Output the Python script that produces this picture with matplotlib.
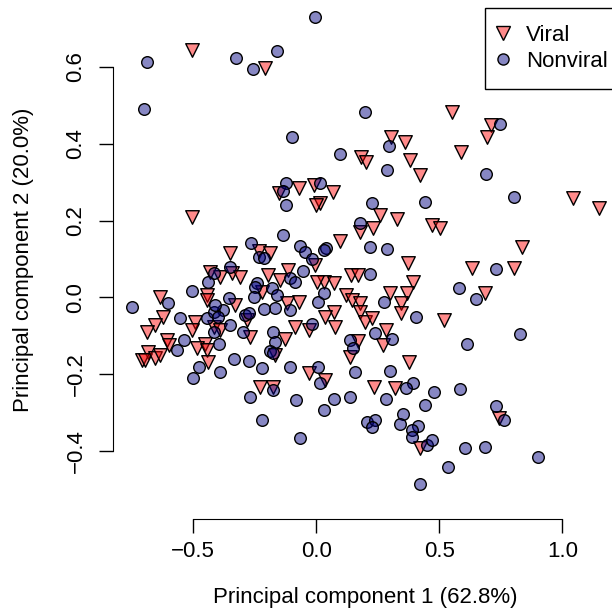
import matplotlib
matplotlib.use("Agg")
import matplotlib.pyplot as plt
from matplotlib.lines import Line2D

# PCA scores
viral_x = [-0.505, -0.207, 0.551, 0.710, 0.694, 0.304, 0.362, 0.589, 0.182, 0.202, 0.382, 0.420,
           0.068, 0.016, 0.260, 0.328, 0.176, 0.229, 0.095, 0.371, 0.141, 0.168, 0.393, 0.030, 0.070,
           -0.153, -0.069, -0.008, 0.000, -0.350, -0.234, -0.187, -0.004, -0.343, -0.390, -0.309,
           -0.198, -0.113, -0.146, 0.003,
           -0.503, -0.431,
           -0.634, -0.445, -0.445, -0.621, -0.654, -0.688, -0.492, -0.505, -0.607, -0.600, -0.451,
           -0.485, -0.445, -0.682, -0.709, -0.695, -0.654, -0.634, -0.438,
           -0.221, -0.329, -0.119, -0.072, -0.282, -0.085, -0.031, -0.268, -0.126, -0.167, -0.031,
           -0.228, -0.174, -0.417, -0.390,
           0.122, 0.145, 0.179, 0.301, 0.369, 0.346, 0.346, 0.070, 0.037, 0.077, 0.176, 0.199, 0.226,
           0.285, 0.271, 0.168, 0.138, 0.375, 0.233, 0.321, 0.037,
           0.420,
           1.042, 1.149, 0.470, 0.504, 0.836, 0.633, 0.802, 0.684, 0.518, 0.741]
viral_y = [0.644, 0.597, 0.482, 0.449, 0.418, 0.418, 0.406, 0.379, 0.366, 0.353, 0.358, 0.319,
           0.275, 0.246, 0.215, 0.203, 0.171, 0.180, 0.148, 0.089, 0.058, 0.058, 0.041, 0.040, 0.037,
           0.271, 0.284, 0.293, 0.241, 0.115, 0.122, 0.115, 0.084, 0.063, 0.054, 0.052,
           0.058, 0.071, 0.045, 0.041,
           0.209, 0.067,
           0.002, 0.006, -0.007, -0.050, -0.072, -0.089, -0.063, -0.085, -0.111, -0.124, -0.120,
           -0.133, -0.137, -0.141, -0.163, -0.163, -0.159, -0.150, -0.167,
           0.015, -0.020, -0.015, -0.011, -0.059, -0.076, -0.085, -0.102, -0.107, -0.150, -0.196,
           -0.233, -0.233, -0.076, -0.085,
           0.006, -0.007, -0.015, 0.011, 0.012, -0.014, -0.041, -0.037, -0.050, -0.076, -0.037, -0.063, -0.054,
           -0.085, -0.124, -0.113, -0.156, -0.167, -0.234, -0.237, -0.215,
           -0.391,
           0.260, 0.234, 0.189, 0.180, 0.130, 0.076, 0.076, 0.012, -0.059, -0.315]

nonviral_x = [-0.688, -0.327, -0.257, -0.160, -0.702, -0.099,
              -0.004, 0.199, 0.748, 0.294, 0.098,
              0.287, 0.016, 0.226, 0.440, 0.179, 0.041, 0.220, 0.287, 0.220,
              -0.122, -0.135, -0.122, -0.134, -0.264, -0.234, -0.214, -0.068, -0.045, -0.018, 0.030,
              -0.350, -0.417, -0.052, -0.106, -0.085, -0.241,
              -0.749, -0.505, -0.603, -0.553, -0.445, -0.417, -0.539, -0.567, -0.478, -0.499, -0.439,
              -0.248, -0.180, -0.160, -0.356, -0.254, -0.167, -0.214, -0.106, 0.009, -0.377, -0.417,
              -0.289, -0.275, -0.350, -0.018, -0.296, -0.174, -0.397, -0.167, -0.190, -0.174, -0.336,
              -0.275, -0.221, -0.108, -0.390, 0.009, 0.016, -0.410, -0.400,
              -0.174, -0.268, -0.081, 0.030, -0.221, -0.068,
              0.030, 0.276, 0.407, 0.237, 0.308, 0.138, 0.149, 0.159, 0.301, 0.393, 0.366,
              0.477, 0.138, 0.070, 0.285, 0.443, 0.352, 0.206, 0.237, 0.226, 0.339, 0.413, 0.389,
              0.389, 0.450, 0.470, 0.423,
              0.691, 0.802, 0.730, 0.579, 0.649, 0.829, 0.612, 0.585, 0.730, 0.764, 0.606, 0.687,
              0.901, 0.535]
nonviral_y = [0.614, 0.624, 0.594, 0.642, 0.490, 0.417,
              0.729, 0.484, 0.452, 0.395, 0.373,
              0.332, 0.297, 0.247, 0.248, 0.193, 0.129, 0.132, 0.126, 0.061,
              0.299, 0.277, 0.241, 0.163, 0.141, 0.106, 0.102, 0.134, 0.119, 0.100, 0.124,
              0.080, 0.063, 0.069, 0.050, 0.041, 0.037,
              -0.024, 0.017, -0.015, -0.054, -0.054, -0.089, -0.111, -0.137, -0.180, -0.211, 0.041,
              0.028, 0.024, 0.006, -0.002, 0.002, -0.028, -0.031, -0.033, -0.011, -0.033, -0.037,
              -0.046, -0.041, -0.072, -0.070, -0.089, -0.089, -0.120, -0.115, -0.139, -0.146, -0.160,
              -0.166, -0.185, -0.182, -0.193, -0.182, -0.224, -0.020, -0.050,
              -0.241, -0.259, -0.267, -0.293, -0.319, -0.365,
              0.011, -0.011, -0.050, -0.092, -0.109, -0.111, -0.133, -0.193, -0.191, -0.224, -0.237,
              -0.246, -0.259, -0.265, -0.265, -0.280, -0.304, -0.325, -0.319, -0.337, -0.330, -0.334, -0.345,
              -0.364, -0.384, -0.371, -0.486,
              0.321, 0.261, 0.074, 0.024, -0.005, -0.096, -0.122, -0.239, -0.282, -0.319, -0.393, -0.390,
              -0.416, -0.441]

x_ticks = [-0.5, 0.0, 0.5, 1.0]
y_ticks = [-0.4, -0.2, 0.0, 0.2, 0.4, 0.6]

plt.rcParams['font.family'] = ['Liberation Sans', 'DejaVu Sans']
plt.rcParams['font.size'] = 16

red_fill = (1.0, 0.0, 0.0, 0.46)
blue_fill = (0.0, 0.0, 0.5, 0.47)

fig = plt.figure(figsize=(6.12, 6.09), dpi=100)
ax = fig.add_axes([113 / 612, 90 / 609, 505 / 612, 519 / 609])

ax.scatter(viral_x, viral_y, marker="v", s=95, facecolor=red_fill, edgecolor="black", linewidth=1.0, zorder=3)
ax.scatter(nonviral_x, nonviral_y, marker="o", s=70, facecolor=blue_fill, edgecolor="black", linewidth=1.0, zorder=3)

ax.set_xlim(-0.826, 1.226)
ax.set_ylim(-0.577, 0.7745)

ax.spines["top"].set_visible(False)
ax.spines["right"].set_visible(False)
ax.spines["left"].set_bounds(-0.4, 0.6)
ax.spines["bottom"].set_bounds(-0.5, 1.0)
ax.set_xticks(x_ticks)
ax.set_yticks(y_ticks)
ax.set_xticklabels(["\u22120.5", "0.0", "0.5", "1.0"])
ax.set_yticklabels(["\u22120.4", "\u22120.2", "0.0", "0.2", "0.4", "0.6"], rotation=90, va="center")
ax.tick_params(direction="out", length=10, width=1.0)
ax.tick_params(axis="x", pad=6)
ax.tick_params(axis="y", pad=9)

ax.set_xlabel("Principal component 1 (62.8%)", labelpad=18)
ax.set_ylabel("Principal component 2 (20.0%)", labelpad=23)

handles = [
    Line2D([], [], marker="v", linestyle="", markersize=9.5, markerfacecolor=red_fill, markeredgecolor="black"),
    Line2D([], [], marker="o", linestyle="", markersize=8, markerfacecolor=blue_fill, markeredgecolor="black"),
]
leg = fig.legend(handles, ["Viral", "Nonviral"], loc="upper left",
                 bbox_to_anchor=(485 / 612, 1 - 8 / 609), borderaxespad=0,
                 fancybox=False, edgecolor="black", framealpha=1,
                 handletextpad=1.0, handlelength=0.1, borderpad=0.75, labelspacing=0.25)
leg.get_frame().set_linewidth(1.0)

fig.savefig("out.png", dpi=100)
